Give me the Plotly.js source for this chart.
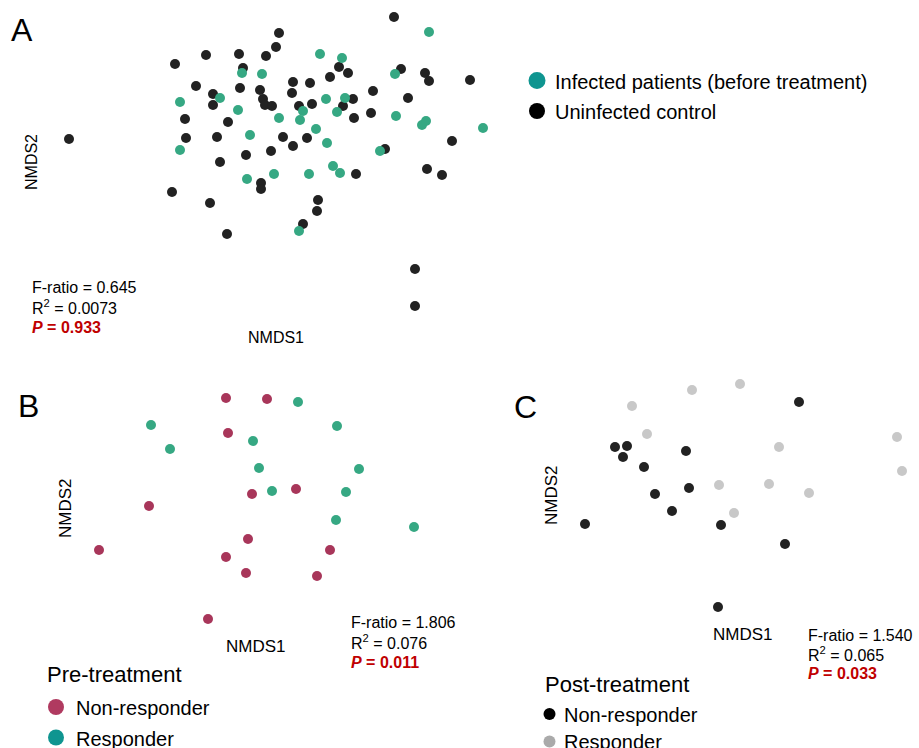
<!DOCTYPE html>
<html>
<head>
<meta charset="utf-8">
<script src="https://cdn.plot.ly/plotly-3.0.1.min.js"></script>
<style>html,body{margin:0;padding:0;background:#fff;}#chart{width:919px;height:748px;}</style>
</head>
<body>
<div id="chart"></div>
<script>
// Panel A: infected patients (before treatment) vs uninfected control (NMDS coordinates)
var aInfectedX = [1.53,0.44,0.66,-0.34,-0.14,1.19,-0.96,-0.56,0.50,0.69,-0.38,0.27,0.61,0.03,0.24,1.20,1.46,1.50,2.07,0.40,-0.26,0.51,-0.96,1.04,0.57,0.64,-0.02,0.33,-0.29,0.23];
var aInfectedY = [1.33,1.11,1.07,0.92,0.91,0.91,0.63,0.67,0.66,0.67,0.55,0.54,0.53,0.47,0.45,0.49,0.40,0.44,0.37,0.36,0.30,0.22,0.15,0.14,-0.01,-0.08,-0.09,-0.09,-0.14,-0.66];
var aControlX = [1.18,0.03,0.00,-0.70,-0.37,-0.10,-1.01,-0.33,0.63,0.72,1.25,0.54,1.49,1.53,1.94,0.17,0.34,-0.80,-0.36,-0.16,0.16,0.97,-0.63,-0.13,0.77,1.32,-0.63,-0.11,-0.04,0.23,0.36,0.67,-0.91,-0.48,0.78,0.95,-2.07,-0.90,-0.59,0.07,0.31,0.17,1.76,1.09,-0.05,-0.30,-0.56,1.51,1.66,0.80,-0.15,-0.15,-1.04,-0.66,0.42,0.41,0.27,-0.49,1.39,1.39];
var aControlY = [1.48,1.32,1.18,1.10,1.11,1.09,1.01,0.97,0.98,0.92,0.96,0.88,0.92,0.84,0.85,0.83,0.82,0.79,0.77,0.75,0.72,0.74,0.71,0.66,0.66,0.67,0.60,0.60,0.59,0.59,0.61,0.59,0.46,0.43,0.47,0.52,0.26,0.27,0.28,0.28,0.27,0.19,0.24,0.16,0.14,0.10,0.03,-0.04,-0.10,-0.09,-0.18,-0.24,-0.27,-0.38,-0.35,-0.46,-0.59,-0.69,-1.04,-1.41];

// Panel B: pre-treatment
var bNonRespX = [-0.30,0.11,-0.28,-0.04,0.40,-1.07,-1.57,-0.08,-0.30,-0.10,0.74,0.61,-0.48];
var bNonRespY = [1.12,1.11,0.77,0.16,0.21,0.04,-0.40,-0.29,-0.47,-0.63,-0.40,-0.66,-1.09];
var bRespX = [0.42,-1.05,0.81,-0.86,-0.03,0.03,1.03,0.16,0.90,0.80,1.58];
var bRespY = [1.08,0.85,0.84,0.61,0.69,0.42,0.41,0.19,0.18,-0.10,-0.17];

// Panel C: post-treatment
var cNonRespX = [0.59,-1.25,-1.13,-1.17,-0.54,-0.96,-0.51,-0.85,-0.68,-1.55,-0.19,0.45,-0.22];
var cNonRespY = [0.93,0.48,0.49,0.38,0.44,0.28,0.07,0.01,-0.16,-0.29,-0.30,-0.49,-1.12];
var cRespX = [0.00,-0.48,-1.08,-0.93,0.39,1.57,1.62,-0.21,0.29,0.69,-0.06];
var cRespY = [1.11,1.05,0.89,0.61,0.48,0.58,0.24,0.10,0.11,0.02,-0.18];

var statsA = ["F-ratio = 0.645", "R<sup>2</sup> = 0.0073", "P = 0.933"];
var statsB = ["F-ratio = 1.806", "R<sup>2</sup> = 0.076", "P = 0.011"];
var statsC = ["F-ratio = 1.540", "R<sup>2</sup> = 0.065", "P = 0.033"];

var W = 919, H = 748;
var FONT = 'Arial, "Liberation Sans", Helvetica, sans-serif';
var cGreen = '#36a883', cBlack = '#222222', cRed = '#a8365a', cGrey = '#c8c8c8';

function pt(name, x, y, color, xa, ya) {
  return {type: 'scatter', mode: 'markers', name: name, x: x, y: y, xaxis: xa, yaxis: ya,
    marker: {color: color, size: 10, line: {width: 0}}, hoverinfo: 'x+y', showlegend: false};
}

var data = [
  pt('Uninfected control', aControlX, aControlY, cBlack, 'x', 'y'),
  pt('Infected patients (before treatment)', aInfectedX, aInfectedY, cGreen, 'x', 'y'),
  pt('Non-responder', bNonRespX, bNonRespY, cRed, 'x2', 'y2'),
  pt('Responder', bRespX, bRespY, cGreen, 'x2', 'y2'),
  pt('Non-responder', cNonRespX, cNonRespY, cBlack, 'x3', 'y3'),
  pt('Responder', cRespX, cRespY, cGrey, 'x3', 'y3')
];

function ax(domain, range, anchor) {
  return {domain: domain, range: range, anchor: anchor, visible: false, showgrid: false, zeroline: false, fixedrange: true};
}
function px(x) { return x / W; }
function py(y) { return 1 - y / H; }

var ann = [];
function txt(text, x, y, size, opts) {
  var a = {text: text, x: px(x), y: py(y), xref: 'paper', yref: 'paper', showarrow: false,
    xanchor: 'left', yanchor: 'middle', font: {family: FONT, size: size, color: '#000'}};
  for (var k in opts) a[k] = opts[k];
  ann.push(a);
}
function stats(lines, x, y0, dy) {
  txt(lines[0], x, y0, 16, {});
  txt(lines[1], x, y0 + dy, 16, {});
  txt('<b><i>P</i> = ' + lines[2].split('= ')[1] + '</b>', x, y0 + 2 * dy, 16, {font: {family: FONT, size: 16, color: '#c00000'}});
}

// Panel letters
txt('A', 9, 30, 32, {});
txt('B', 16, 406, 32, {});
txt('C', 512, 407, 32, {});
// Axis titles
txt('NMDS1', 276, 337, 16, {xanchor: 'center'});
txt('NMDS2', 32, 162, 16, {xanchor: 'center', textangle: -90});
txt('NMDS1', 256, 646, 17, {xanchor: 'center'});
txt('NMDS2', 65, 508, 17, {xanchor: 'center', textangle: -90});
txt('NMDS1', 743, 634, 17, {xanchor: 'center'});
txt('NMDS2', 551, 495, 17, {xanchor: 'center', textangle: -90});
// Stats
stats(statsA, 30, 287, 20);
stats(statsB, 349, 622, 20);
stats(statsC, 806, 635, 19);
// Legends
txt('Infected patients (before treatment)', 553, 82, 20, {});
txt('Uninfected control', 553, 112, 20, {});
txt('Pre-treatment', 45, 674, 22, {});
txt('Non-responder', 74, 708, 20, {});
txt('Responder', 74, 739, 20, {});
txt('Post-treatment', 543, 684, 22, {});
txt('Non-responder', 562, 715, 20, {});
txt('Responder', 562, 742, 20, {});

function dot(cx, cy, d, color) {
  return {type: 'circle', xref: 'paper', yref: 'paper', x0: px(cx - d / 2), x1: px(cx + d / 2),
    y0: py(cy + d / 2), y1: py(cy - d / 2), fillcolor: color, line: {width: 0}};
}
var shapes = [
  dot(537, 80.5, 17, '#0f9590'),
  dot(537, 111, 16, '#000000'),
  dot(56, 707, 16, '#b03a60'),
  dot(56, 737.5, 16, '#0f9590'),
  dot(549.5, 714, 12, '#000000'),
  dot(549.5, 741.5, 12, '#aaaaaa')
];

var layout = {
  width: W, height: H, margin: {l: 0, r: 0, t: 0, b: 0},
  paper_bgcolor: '#fff', plot_bgcolor: 'rgba(0,0,0,0)', showlegend: false,
  font: {family: FONT},
  xaxis: ax([60 / W, 490 / W], [-2.16, 2.14], 'y'),
  yaxis: ax([1 - 315 / H, 1 - 10 / H], [-1.50, 1.55], 'x'),
  xaxis2: ax([90 / W, 425 / W], [-1.66, 1.69], 'y2'),
  yaxis2: ax([1 - 625 / H, 1 - 390 / H], [-1.15, 1.20], 'x2'),
  xaxis3: ax([575 / W, 910 / W], [-1.65, 1.70], 'y3'),
  yaxis3: ax([1 - 615 / H, 1 - 375 / H], [-1.20, 1.20], 'x3'),
  annotations: ann, shapes: shapes
};

Plotly.newPlot('chart', data, layout, {displayModeBar: false, staticPlot: true});
</script>
</body>
</html>
